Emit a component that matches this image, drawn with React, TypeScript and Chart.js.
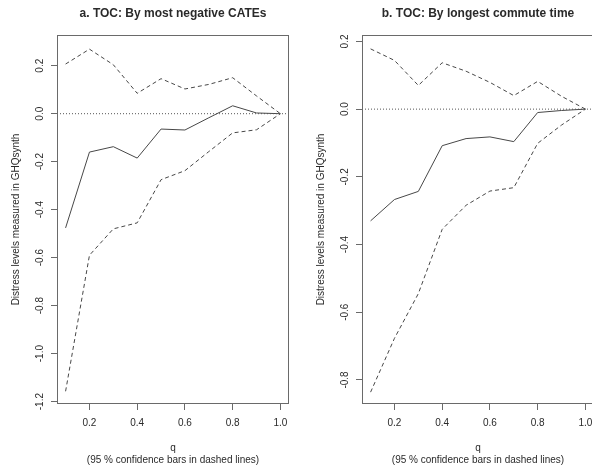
import React, { useEffect, useRef } from "react";
import { Chart, registerables } from "chart.js";

Chart.register(...registerables);

// ---- data ----
const qValues = [0.1, 0.2, 0.3, 0.4, 0.5, 0.6, 0.7, 0.8, 0.9, 1.0];

const tocA = [-0.476, -0.16, -0.1375, -0.185, -0.064, -0.068, -0.017, 0.033, 0.003, 0];
const upperA = [0.207, 0.269, 0.204, 0.085, 0.146, 0.103, 0.122, 0.15, 0.074, 0];
const lowerA = [-1.157, -0.59, -0.48, -0.455, -0.275, -0.2375, -0.158, -0.08, -0.067, 0];

const tocB = [-0.33, -0.267, -0.243, -0.108, -0.087, -0.082, -0.096, -0.01, -0.004, 0];
const upperB = [0.178, 0.144, 0.07, 0.137, 0.112, 0.079, 0.04, 0.082, 0.038, 0];
const lowerB = [-0.836, -0.677, -0.545, -0.355, -0.284, -0.242, -0.232, -0.101, -0.047, 0];

const xTicks = [0.2, 0.4, 0.6, 0.8, 1.0];
const yTicksA = [-1.2, -1.0, -0.8, -0.6, -0.4, -0.2, 0.0, 0.2];
const yTicksB = [-0.8, -0.6, -0.4, -0.2, 0.0, 0.2];

const xRange = [0.064, 1.036];
const yRangeA = [-1.21, 0.328];
const yRangeB = [-0.871, 0.219];

const titleA = "a. TOC: By most negative CATEs";
const titleB = "b. TOC: By longest commute time";
const yTitle = "Distress levels measured in GHQsynth";
const xTitle = ["q", "(95 % confidence bars in dashed lines)"];

// ---- styles ----
const FONT = "'Liberation Sans', Arial, Helvetica, sans-serif";
const LINE = "#474747";
const BOX = "#6a6a6a";
const TEXT = "#2a2a2a";

const boxPlugin = {
  id: "boxPlugin",
  afterDatasetsDraw(chart: any) {
    const { ctx, chartArea } = chart;
    const l = Math.round(chartArea.left) + 0.5;
    const t = Math.round(chartArea.top) + 0.5;
    const r = Math.round(chartArea.right) - 0.5;
    const b = Math.round(chartArea.bottom) - 0.5;
    ctx.save();
    ctx.strokeStyle = BOX;
    ctx.lineWidth = 1;
    ctx.setLineDash([]);
    ctx.strokeRect(l, t, r - l, b - t);
    ctx.restore();
  },
};

function makeConfig(title: string, toc: number[], upper: number[], lower: number[], yTicks: number[], yRange: number[]) {
  const pts = (arr: number[]) => qValues.map((q, i) => ({ x: q, y: arr[i] }));
  const base = { pointRadius: 0, borderWidth: 1, fill: false, tension: 0 };
  return {
    type: "line" as const,
    data: {
      datasets: [
        { ...base, data: [{ x: xRange[0], y: 0 }, { x: xRange[1], y: 0 }], borderColor: "#555", borderDash: [1, 2] },
        { ...base, data: pts(upper), borderColor: LINE, borderDash: [4, 3] },
        { ...base, data: pts(lower), borderColor: LINE, borderDash: [4, 3] },
        { ...base, data: pts(toc), borderColor: LINE },
      ],
    },
    options: {
      responsive: false,
      animation: false,
      events: [],
      layout: { padding: { left: 0, right: 16, top: 0, bottom: 0 } },
      plugins: {
        legend: { display: false },
        tooltip: { enabled: false },
        title: {
          display: true,
          text: title,
          fullSize: false,
          color: TEXT,
          font: { family: FONT, size: 12, weight: "bold", lineHeight: 1.2 },
          padding: { top: 6, bottom: 14.6 },
        },
      },
      scales: {
        x: {
          type: "linear",
          min: xRange[0],
          max: xRange[1],
          afterBuildTicks: (s: any) => { s.ticks = xTicks.map((v) => ({ value: v })); },
          afterFit: (s: any) => { s.height = 63; },
          grid: { display: true, drawOnChartArea: false, drawTicks: true, tickLength: 6, color: BOX },
          border: { display: false },
          ticks: {
            color: TEXT,
            font: { family: FONT, size: 10, lineHeight: 1.2 },
            padding: 7,
            maxRotation: 0,
            autoSkip: false,
            callback: (v: any) => Number(v).toFixed(1),
          },
          title: {
            display: true,
            text: xTitle,
            color: TEXT,
            font: { family: FONT, size: 10, lineHeight: 1.2 },
            padding: { top: 0, bottom: 1 },
          },
        },
        y: {
          type: "linear",
          min: yRange[0],
          max: yRange[1],
          afterBuildTicks: (s: any) => { s.ticks = yTicks.map((v) => ({ value: v })); },
          afterFit: (s: any) => { s.width = 57; },
          grid: { display: true, drawOnChartArea: false, drawTicks: true, tickLength: 6, color: BOX },
          border: { display: false },
          ticks: {
            color: TEXT,
            font: { family: FONT, size: 10, lineHeight: 1.2 },
            padding: 2.4,
            minRotation: 90,
            maxRotation: 90,
            crossAlign: "center",
            autoSkip: false,
            callback: (v: any) => Number(v).toFixed(1),
          },
          title: {
            display: true,
            text: yTitle,
            color: TEXT,
            font: { family: FONT, size: 10, lineHeight: 1.2 },
            padding: { top: 10.5, bottom: 0 },
          },
        },
      },
    },
    plugins: [boxPlugin],
  };
}

function Panel(props: { cfg: any; left: number }) {
  const ref = useRef<HTMLCanvasElement>(null);
  useEffect(() => {
    if (!ref.current) return;
    const chart = new Chart(ref.current, props.cfg);
    return () => chart.destroy();
  }, []);
  return (
    <canvas
      ref={ref}
      width={305}
      height={467}
      style={{ position: "absolute", left: props.left, top: 0, width: 305, height: 467 }}
    />
  );
}

export default function App() {
  const cfgA = makeConfig(titleA, tocA, upperA, lowerA, yTicksA, yRangeA);
  const cfgB = makeConfig(titleB, tocB, upperB, lowerB, yTicksB, yRangeB);
  return (
    <div
      style={{
        position: "fixed",
        left: 0,
        top: 0,
        width: 592,
        height: 467,
        overflow: "hidden",
        background: "#fff",
      }}
    >
      <Panel cfg={cfgA} left={0} />
      <Panel cfg={cfgB} left={305} />
    </div>
  );
}
